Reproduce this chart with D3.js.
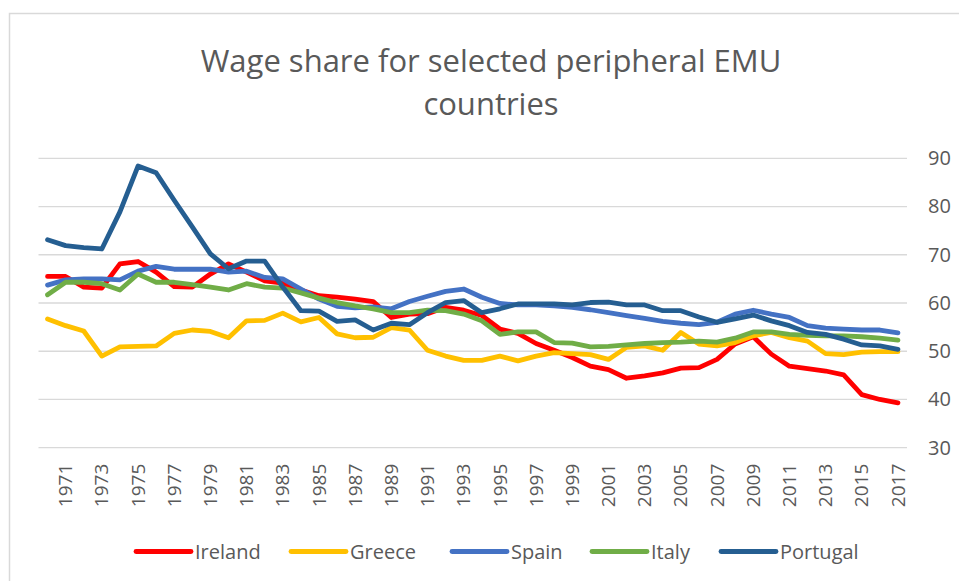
<!DOCTYPE html>
<html>
<head>
<meta charset="utf-8">
<script src="https://cdn.jsdelivr.net/npm/d3@7"></script>
<style>
  body { margin: 0; background: #fff; }
  text { font-family: "Open Sans", sans-serif; fill: #595959; }
</style>
</head>
<body>
<div id="chart"></div>
<script>
const years = d3.range(1970, 2018);
const yTicks = [30, 40, 50, 60, 70, 80, 90];

const ireland = [65.5, 65.5, 63.3, 63.1, 68.1, 68.6, 66.4, 63.4, 63.3, 66.0,
  68.1, 66.4, 64.6, 64.1, 62.7, 61.5, 61.2, 60.8, 60.3, 57.0,
  57.7, 57.8, 59.1, 58.5, 57.4, 54.6, 53.7, 51.6, 50.2, 48.7,
  46.9, 46.2, 44.4, 44.9, 45.5, 46.5, 46.6, 48.3, 51.5, 53.0,
  49.4, 46.9, 46.4, 45.9, 45.1, 41.0, 40.0, 39.3];
const greece = [56.7, 55.3, 54.2, 49.0, 50.9, 51.0, 51.1, 53.7, 54.4, 54.1,
  52.8, 56.3, 56.4, 57.9, 56.1, 57.0, 53.6, 52.8, 52.9, 54.9,
  54.4, 50.2, 49.0, 48.1, 48.1, 49.0, 48.0, 49.0, 49.7, 49.5,
  49.3, 48.3, 50.8, 51.1, 50.2, 53.9, 51.5, 51.1, 51.8, 53.2,
  53.9, 52.8, 52.1, 49.5, 49.3, 49.8, 49.9, 49.9];
const spain = [63.7, 64.8, 65.0, 65.0, 64.8, 66.6, 67.6, 67.0, 67.0, 67.0,
  66.4, 66.6, 65.3, 65.0, 62.9, 60.8, 59.3, 59.0, 59.2, 58.8,
  60.3, 61.4, 62.4, 62.9, 61.2, 59.9, 59.6, 59.6, 59.4, 59.1,
  58.6, 58.0, 57.4, 56.8, 56.2, 55.8, 55.5, 56.0, 57.7, 58.5,
  57.7, 57.0, 55.3, 54.8, 54.6, 54.4, 54.4, 53.8];
const italy = [61.7, 64.3, 64.3, 64.0, 62.7, 66.0, 64.3, 64.3, 63.8, 63.3,
  62.7, 64.0, 63.3, 63.1, 62.1, 61.0, 60.1, 59.4, 58.8, 58.0,
  58.0, 58.5, 58.4, 57.7, 56.3, 53.5, 54.0, 54.0, 51.8, 51.7,
  50.9, 51.0, 51.3, 51.6, 51.8, 51.9, 52.1, 51.9, 52.7, 54.0,
  54.0, 53.5, 53.3, 53.2, 53.2, 53.0, 52.7, 52.3];
const portugal = [73.1, 71.9, 71.5, 71.2, 78.9, 88.4, 87.0, 81.3, 75.8, 70.2,
  67.1, 68.7, 68.7, 63.3, 58.4, 58.3, 56.2, 56.5, 54.4, 55.8,
  55.5, 58.0, 60.1, 60.5, 58.0, 58.8, 59.8, 59.8, 59.8, 59.6,
  60.1, 60.2, 59.6, 59.6, 58.4, 58.4, 57.1, 56.0, 56.7, 57.5,
  56.3, 55.3, 53.9, 53.5, 52.5, 51.3, 51.1, 50.4];

const series = [
  {name: "Ireland", values: ireland, color: "#FF0000"},
  {name: "Greece", values: greece, color: "#FFC000"},
  {name: "Spain", values: spain, color: "#4472C4"},
  {name: "Italy", values: italy, color: "#70AD47"},
  {name: "Portugal", values: portugal, color: "#255E91"}
];

const width = 959, height = 581;
const plot = {left: 38.5, right: 907, top: 158.3, bottom: 447.7};

const svg = d3.select("#chart").append("svg")
  .attr("width", width)
  .attr("height", height);

// chart area border (only top/left visible in the frame)
svg.append("rect")
  .attr("x", 9.5).attr("y", 13.5)
  .attr("width", 1000).attr("height", 1000)
  .attr("fill", "none")
  .attr("stroke", "#d9d9d9")
  .attr("stroke-width", 1.5);

const xScale = d3.scaleBand()
  .domain(years)
  .range([plot.left, plot.right]);
const yScale = d3.scaleLinear()
  .domain([30, 90])
  .range([plot.bottom, plot.top]);

// gridlines
svg.append("g")
  .attr("class", "grid")
  .selectAll("line")
  .data(yTicks)
  .join("line")
  .attr("x1", plot.left)
  .attr("x2", plot.right)
  .attr("y1", d => yScale(d))
  .attr("y2", d => yScale(d))
  .attr("stroke", "#d9d9d9")
  .attr("stroke-width", 1.3);

// right y axis
const yAxis = d3.axisRight(yScale).tickValues(yTicks).tickSize(0).tickPadding(21);
svg.append("g")
  .attr("transform", `translate(${plot.right}, 0)`)
  .call(yAxis)
  .call(g => g.select(".domain").remove())
  .selectAll("text")
  .style("font-size", "20px")
  .attr("fill", "#595959");

// bottom x axis, every other year
const xAxis = d3.axisBottom(xScale)
  .tickValues(years.filter(y => y % 2 === 1))
  .tickSize(0);
svg.append("g")
  .attr("transform", `translate(0, ${plot.bottom})`)
  .call(xAxis)
  .call(g => g.select(".domain").remove())
  .selectAll("text")
  .style("font-size", "19px")
  .attr("fill", "#595959")
  .attr("text-anchor", "end")
  .attr("transform", "rotate(-90)")
  .attr("x", -16)
  .attr("y", 0)
  .attr("dy", "0.35em");

// lines
const line = d3.line()
  .x((d, i) => xScale(years[i]) + xScale.bandwidth() / 2)
  .y(d => yScale(d));

svg.append("g")
  .selectAll("path")
  .data(series)
  .join("path")
  .attr("d", d => line(d.values))
  .attr("fill", "none")
  .attr("stroke", d => d.color)
  .attr("stroke-width", 4.8)
  .attr("stroke-linejoin", "round")
  .attr("stroke-linecap", "round");

// title, two lines
const titleLines = ["Wage share for selected peripheral EMU", "countries"];
svg.append("g")
  .selectAll("text")
  .data(titleLines)
  .join("text")
  .attr("text-anchor", "middle")
  .attr("x", 491)
  .attr("y", (d, i) => 72 + i * 43)
  .style("font-size", "31px")
  .text(d => d);

// legend
const legendX = [136, 291, 452, 592, 721];
const legend = svg.append("g")
  .selectAll("g")
  .data(series)
  .join("g")
  .attr("transform", (d, i) => `translate(${legendX[i]}, 551.5)`);
legend.append("line")
  .attr("x1", 0).attr("x2", 55)
  .attr("stroke", d => d.color)
  .attr("stroke-width", 4.8)
  .attr("stroke-linecap", "round");
legend.append("text")
  .attr("x", 59)
  .attr("dy", "0.35em")
  .style("font-size", "20px")
  .text(d => d.name);
</script>
</body>
</html>
